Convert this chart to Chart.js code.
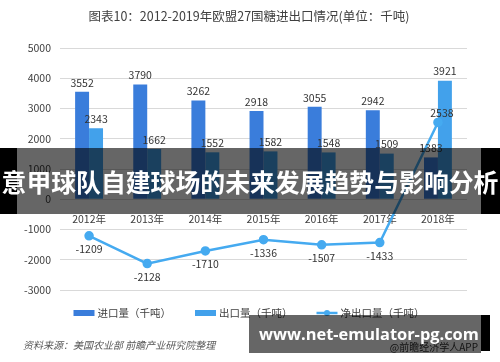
<!DOCTYPE html>
<html>
<head>
<meta charset="utf-8">
<script src="https://cdn.jsdelivr.net/npm/chart.js@4.4.1/dist/chart.umd.min.js"></script>
<style>
  html, body { margin: 0; padding: 0; background: #fff; }
  #wrap { position: relative; width: 500px; height: 362px; overflow: hidden; }
  canvas { display: block; }
  .band { position: absolute; }
  #headline, #site { position: absolute; color: #fff; font-weight: bold; white-space: nowrap; }
  #headline { left: 0; top: 148px; width: 500px; height: 66px; line-height: 66px; text-align: center;
              font-family: "Noto Sans CJK SC", sans-serif; }
  #site { left: 259px; top: 315px; height: 38px; line-height: 38px; font-family: "Open Sans", sans-serif; }
</style>
</head>
<body>
<div id="wrap">
  <canvas id="chart" width="500" height="362"></canvas>
  <div class="band" style="left:0;top:148px;width:17px;height:66px;background:#000"></div>
  <div class="band" style="left:17px;top:148px;width:464px;height:66px;background:rgba(0,0,0,.6)"></div>
  <div class="band" style="left:481px;top:148px;width:19px;height:66px;background:#000"></div>
  <div id="headline">意甲球队自建球场的未来发展趋势与影响分析</div>
  <div class="band" style="left:249px;top:315px;width:232px;height:38px;background:rgba(0,0,0,.6)"></div>
  <div class="band" style="left:481px;top:315px;width:9px;height:36px;background:#000"></div>
  <div id="site">www.net-emulator-pg.com</div>
</div>
<script>
// chart data
const years      = ['2012年', '2013年', '2014年', '2015年', '2016年', '2017年', '2018年'];
const importVals = [3552, 3790, 3262, 2918, 3055, 2942, 1383];
const exportVals = [2343, 1662, 1552, 1582, 1548, 1509, 3921];
const netVals    = [-1209, -2128, -1710, -1336, -1507, -1433, 2538];
const seriesNames = ['进口量（千吨）', '出口量（千吨）', '净出口量（千吨）'];
const yMin = -3000, yMax = 5000, yStep = 1000;

const titleText  = '图表10：2012-2019年欧盟27国糖进出口情况(单位：千吨)';
const sourceText = '资料来源：美国农业部 前瞻产业研究院整理';
const brandText  = '@前瞻经济学人APP';

const FONT = '"Noto Sans CJK SC", "Noto Sans", sans-serif';
const INK  = '#404040';
Chart.defaults.font.family = FONT;

// fit overlay texts to the widths seen in the picture
function fitText(id, font, width) {
  const el = document.getElementById(id);
  const c = document.createElement('canvas').getContext('2d');
  c.font = 'bold 20px ' + font;
  const w = c.measureText(el.textContent).width;
  el.style.fontSize = (20 * width / w).toFixed(2) + 'px';
}
fitText('headline', '"Noto Sans CJK SC"', 497);
fitText('site', '"Open Sans"', 220);

const decor = {
  id: 'decor',
  afterDatasetsDraw(chart) {
    const ctx = chart.ctx;
    ctx.save();
    ctx.font = '10.5px ' + FONT;
    ctx.fillStyle = '#333';
    ctx.textAlign = 'center';
    chart.data.datasets.forEach((ds, i) => {
      const meta = chart.getDatasetMeta(i);
      meta.data.forEach((el, j) => {
        const v = ds.data[j];
        if (ds.type === 'line') {
          if (v >= 0) { ctx.textBaseline = 'bottom'; ctx.fillText(v, el.x + 4, el.y - 4); }
          else { ctx.textBaseline = 'top'; ctx.fillText(v, el.x, el.y + 8); }
        } else {
          ctx.textBaseline = 'bottom';
          ctx.fillText(v, el.x, el.y - 4);
        }
      });
    });
    ctx.restore();
  },
  afterDraw(chart) {
    const ctx = chart.ctx;
    ctx.save();
    // title
    ctx.font = '12.5px ' + FONT;
    ctx.fillStyle = INK;
    ctx.textAlign = 'center';
    ctx.textBaseline = 'middle';
    ctx.fillText(titleText, 249, 16);

    // legend
    ctx.font = '10.5px ' + FONT;
    ctx.textAlign = 'left';
    const sw = 21, gap = 3, between = 24, ly = 313;
    const widths = chart.data.datasets.map(ds => sw + gap + ctx.measureText(ds.label).width);
    const total = widths.reduce((a, b) => a + b, 0) + between * (widths.length - 1);
    let x = 249 - total / 2;
    chart.data.datasets.forEach((ds, i) => {
      if (ds.type === 'line') {
        ctx.strokeStyle = ds.borderColor;
        ctx.lineWidth = 2.5;
        ctx.beginPath(); ctx.moveTo(x, ly); ctx.lineTo(x + sw, ly); ctx.stroke();
        ctx.fillStyle = ds.borderColor;
        ctx.beginPath(); ctx.arc(x + sw / 2, ly, 3, 0, Math.PI * 2); ctx.fill();
      } else {
        ctx.fillStyle = ds.backgroundColor;
        ctx.fillRect(x, ly - 3, sw, 6);
      }
      ctx.fillStyle = INK;
      ctx.fillText(ds.label, x + sw + gap, ly);
      x += widths[i] + between;
    });

    // source lines
    ctx.font = 'italic 10px ' + FONT;
    ctx.fillStyle = '#595959';
    ctx.fillText(sourceText, 23, 345);
    ctx.font = '10px ' + FONT;
    ctx.textAlign = 'right';
    ctx.fillStyle = '#333';
    ctx.fillText(brandText, 478, 347);
    ctx.restore();
  }
};

new Chart(document.getElementById('chart'), {
  type: 'bar',
  data: {
    labels: years,
    datasets: [
      { type: 'bar', label: seriesNames[0], data: importVals, backgroundColor: '#3a7ddb',
        categoryPercentage: 0.48, barPercentage: 1, order: 1 },
      { type: 'bar', label: seriesNames[1], data: exportVals, backgroundColor: '#42a1eb',
        categoryPercentage: 0.48, barPercentage: 1, order: 1 },
      { type: 'line', label: seriesNames[2], data: netVals, borderColor: '#45aaf0', backgroundColor: '#45aaf0',
        borderWidth: 2.5, pointRadius: 3.5, pointBackgroundColor: '#45aaf0', tension: 0, order: 0 }
    ]
  },
  options: {
    responsive: false,
    devicePixelRatio: 1,
    animation: false,
    layout: { padding: { top: 48, right: 33, bottom: 72, left: 0 } },
    scales: {
      x: {
        position: { y: 0 },
        grid: { display: false },
        border: { display: false },
        ticks: { color: INK, font: { size: 10.5 }, padding: 5, maxRotation: 0 }
      },
      y: {
        min: yMin, max: yMax,
        afterFit: s => { s.width = 60; },
        grid: { color: '#d9d9d9', drawTicks: false },
        border: { display: false },
        ticks: { stepSize: yStep, color: INK, font: { size: 10.5 }, padding: 9, callback: v => String(v) }
      }
    },
    plugins: {
      legend: { display: false },
      title: { display: false },
      tooltip: { enabled: false }
    }
  },
  plugins: [decor]
});
</script>
</body>
</html>
